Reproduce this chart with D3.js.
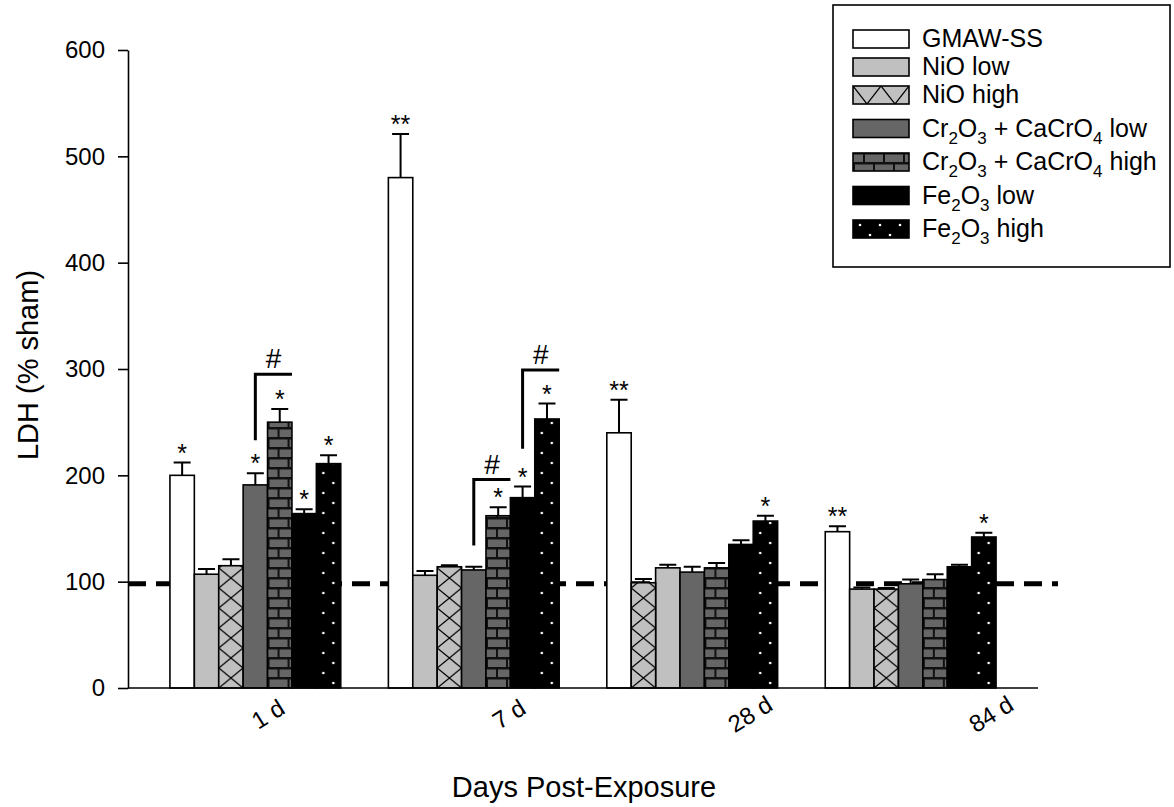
<!DOCTYPE html>
<html>
<head>
<meta charset="utf-8">
<script src="https://cdn.jsdelivr.net/npm/d3@7"></script>
<style>
  body { margin: 0; background: #fff; }
  text { font-family: "Liberation Sans", Arial, sans-serif; white-space: pre; }
</style>
</head>
<body>
<script>
var width = 1174, height = 807;

// categories
var groups = ['1 d', '7 d', '28 d', '84 d'];
var seriesNames = ['GMAW-SS', 'NiO low', 'NiO high', 'Cr_2O_3 + CaCrO_4 low',
                   'Cr_2O_3 + CaCrO_4 high', 'Fe_2O_3 low', 'Fe_2O_3 high'];

// means (% sham) per series, one value per group
var gmawMean   = [200, 480, 240, 147];
var nioLowMean = [107, 106, 113, 93];
var nioHighMean= [115, 114, 99, 93];
var crLowMean  = [191, 111, 109, 98];
var crHighMean = [250, 162, 113, 102];
var feLowMean  = [164, 179, 135, 114];
var feHighMean = [211, 253, 157, 142];

// standard errors
var gmawErr    = [12, 41, 31, 5];
var nioLowErr  = [5, 4, 3, 1.5];
var nioHighErr = [6, 1.5, 3.5, 1];
var crLowErr   = [11, 3, 5, 4];
var crHighErr  = [12.5, 8, 4.5, 5];
var feLowErr   = [4, 10.5, 4, 2];
var feHighErr  = [8, 14.5, 5, 4];

// significance marks
var gmawSig    = ['*', '**', '**', '**'];
var nioLowSig  = ['', '', '', ''];
var nioHighSig = ['', '', '', ''];
var crLowSig   = ['*', '', '', ''];
var crHighSig  = ['*', '*', '', ''];
var feLowSig   = ['*', '*', '', ''];
var feHighSig  = ['*', '*', '*', '*'];

// order of bars inside each group (28 d has the two NiO bars swapped)
var barOrder = [[0,1,2,3,4,5,6], [0,1,2,3,4,5,6], [0,2,1,3,4,5,6], [0,1,2,3,4,5,6]];

// "#" brackets: group, from series, to series, low and high value
var brackets = [['1 d', 3, 4, 233, 295], ['7 d', 3, 4, 134, 196], ['7 d', 5, 6, 225, 299]];

var baseline = 98;

var means = [gmawMean, nioLowMean, nioHighMean, crLowMean, crHighMean, feLowMean, feHighMean];
var errs  = [gmawErr, nioLowErr, nioHighErr, crLowErr, crHighErr, feLowErr, feHighErr];
var sigs  = [gmawSig, nioLowSig, nioHighSig, crLowSig, crHighSig, feLowSig, feHighSig];
var fills = ['#ffffff', '#c0c0c0', 'url(#xhatch)', '#666666', 'url(#brick)', '#000000', 'url(#dots)'];
var legFills = fills.slice();
legFills[2] = 'url(#xhatchLeg)';

var svg = d3.select('body').append('svg')
            .attr('width', width).attr('height', height);

var x = d3.scaleBand().domain(groups).range([128, 1038])
          .paddingInner(0.218).paddingOuter(0.192);
var x1 = d3.scaleBand().domain(d3.range(7)).range([0, x.bandwidth()]);
var y = d3.scaleLinear().domain([0, 600]).range([688, 50]);
var xLab = d3.scalePoint().domain(groups).range([268, 991]);
var bw = x1.bandwidth();

// patterns
var defs = svg.append('defs');
function crossPattern(id, w, h){
  var p = defs.append('pattern').attr('id', id).attr('patternUnits', 'userSpaceOnUse')
    .attr('width', w).attr('height', h);
  p.append('rect').attr('width', w).attr('height', h).attr('fill', '#c0c0c0');
  p.append('path').attr('d', 'M0,0L' + w + ',' + h + 'M' + w + ',0L0,' + h)
    .attr('stroke', '#000').attr('stroke-width', 1.3);
}
crossPattern('xhatch', bw, 20);
crossPattern('xhatchLeg', 28, 36);

var pb = defs.append('pattern').attr('id', 'brick').attr('patternUnits', 'userSpaceOnUse')
  .attr('width', 20).attr('height', 20);
pb.append('rect').attr('width', 20).attr('height', 20).attr('fill', '#111');
[[0, 1.5, 10], [12, 1.5, 8], [2, 11.5, 18]].forEach(function(b){
  pb.append('rect').attr('x', b[0]).attr('y', b[1]).attr('width', b[2]).attr('height', 7.5)
    .attr('fill', '#666');
});

var pd = defs.append('pattern').attr('id', 'dots').attr('patternUnits', 'userSpaceOnUse')
  .attr('width', 20).attr('height', 20);
pd.append('rect').attr('width', 20).attr('height', 20).attr('fill', '#000');
pd.append('circle').attr('cx', 7).attr('cy', 5).attr('r', 1.3).attr('fill', '#fff');
pd.append('circle').attr('cx', 17).attr('cy', 15).attr('r', 1.3).attr('fill', '#fff');

// sham reference line
svg.append('line')
  .attr('x1', 128).attr('x2', 1058).attr('y1', y(baseline)).attr('y2', y(baseline))
  .attr('stroke', '#000').attr('stroke-width', 5)
  .attr('stroke-dasharray', '18,10');

// bars
var cells = [];
groups.forEach(function(g, gi){
  means.forEach(function(m, si){
    cells.push({g: g, gi: gi, si: si, v: m[gi], e: errs[si][gi], sig: sigs[si][gi],
                bx: x(g) + x1(barOrder[gi][si])});
  });
});

var bar = svg.selectAll('g.bar').data(cells).enter().append('g')
  .attr('class', 'bar')
  .attr('transform', function(d){ return 'translate(' + d.bx + ',' + y(0) + ')'; });

bar.append('rect')
  .attr('x', 0).attr('width', bw)
  .attr('y', function(d){ return y(d.v) - y(0); })
  .attr('height', function(d){ return y(0) - y(d.v); })
  .attr('fill', function(d){ return fills[d.si]; })
  .attr('stroke', '#000').attr('stroke-width', 1.6);

// error bars
bar.append('path')
  .attr('d', function(d){
    var t = y(d.v) - y(0), c = y(d.v + d.e) - y(0);
    return 'M' + bw / 2 + ',' + t + 'V' + c + 'M' + (bw / 2 - 8.5) + ',' + c + 'H' + (bw / 2 + 8.5);
  })
  .attr('stroke', '#000').attr('stroke-width', 2).attr('fill', 'none');

bar.append('text')
  .attr('x', bw / 2)
  .attr('y', function(d){ return y(d.v + d.e) - y(0) - 1; })
  .attr('text-anchor', 'middle').attr('font-size', 25)
  .text(function(d){ return d.sig; });

// brackets
brackets.forEach(function(b){
  var gi = groups.indexOf(b[0]);
  var xa = x(b[0]) + x1(barOrder[gi][b[1]]) + bw / 2;
  var xb = x(b[0]) + x1(barOrder[gi][b[2]]) + bw;
  svg.append('path')
    .attr('d', 'M' + xa + ',' + y(b[3]) + 'V' + y(b[4]) + 'H' + xb)
    .attr('fill', 'none').attr('stroke', '#000').attr('stroke-width', 3);
  svg.append('text')
    .attr('x', (xa + xb) / 2).attr('y', y(b[4]) - 6)
    .attr('text-anchor', 'middle').attr('font-size', 28)
    .text('#');
});

// axes
var yAxis = svg.append('g').attr('transform', 'translate(128,0)')
  .call(d3.axisLeft(y).tickValues([0, 100, 200, 300, 400, 500, 600])
        .tickSize(10).tickSizeOuter(0).tickPadding(13));
yAxis.attr('font-size', 24).attr('font-family', '"Liberation Sans", Arial, sans-serif');
yAxis.selectAll('line, path').attr('stroke', '#000').attr('stroke-width', 1.6);
yAxis.selectAll('text').attr('fill', '#000');

svg.append('line')
  .attr('x1', 128).attr('x2', 1038).attr('y1', y(0)).attr('y2', y(0))
  .attr('stroke', '#000').attr('stroke-width', 1.6);

svg.selectAll('text.xlab').data(groups).enter().append('text')
  .attr('class', 'xlab')
  .attr('transform', function(d){ return 'translate(' + xLab(d) + ',714) rotate(-32)'; })
  .attr('text-anchor', 'middle').attr('dominant-baseline', 'central')
  .attr('font-size', 24)
  .text(function(d){ return d; });

svg.append('text')
  .attr('x', 584).attr('y', 797).attr('text-anchor', 'middle')
  .attr('font-size', 29).text('Days Post-Exposure');

svg.append('text')
  .attr('transform', 'translate(38,365) rotate(-90)')
  .attr('text-anchor', 'middle').attr('font-size', 29)
  .text('LDH (% sham)');

// legend
function richText(sel, str){
  str.split(/_(\d)/).forEach(function(p, i){
    var t = sel.append('tspan').text(p);
    if (i % 2 === 1) t.attr('font-size', 17).attr('dy', 7);
    else if (i > 0) t.attr('dy', -7);
  });
}

var legend = svg.append('g');
legend.append('rect')
  .attr('x', 833).attr('y', 5).attr('width', 337).attr('height', 262)
  .attr('fill', '#fff').attr('stroke', '#000').attr('stroke-width', 1.6);

var rowY = [];
seriesNames.forEach(function(n, i){
  var step = n.indexOf('_') >= 0 ? 33.5 : 28;
  rowY.push(i === 0 ? 39 : rowY[i - 1] + step);
});

var row = legend.selectAll('g.row').data(seriesNames).enter().append('g')
  .attr('class', 'row')
  .attr('transform', function(d, i){ return 'translate(853,' + (rowY[i] - 9) + ')'; });

row.append('rect')
  .attr('x', 0).attr('y', 0).attr('width', 56).attr('height', 18)
  .attr('fill', function(d, i){ return legFills[i]; })
  .attr('stroke', '#000').attr('stroke-width', 1.6);

row.append('text')
  .attr('x', 69).attr('y', 17).attr('font-size', 25)
  .each(function(d){ richText(d3.select(this), d); });
</script>
</body>
</html>
